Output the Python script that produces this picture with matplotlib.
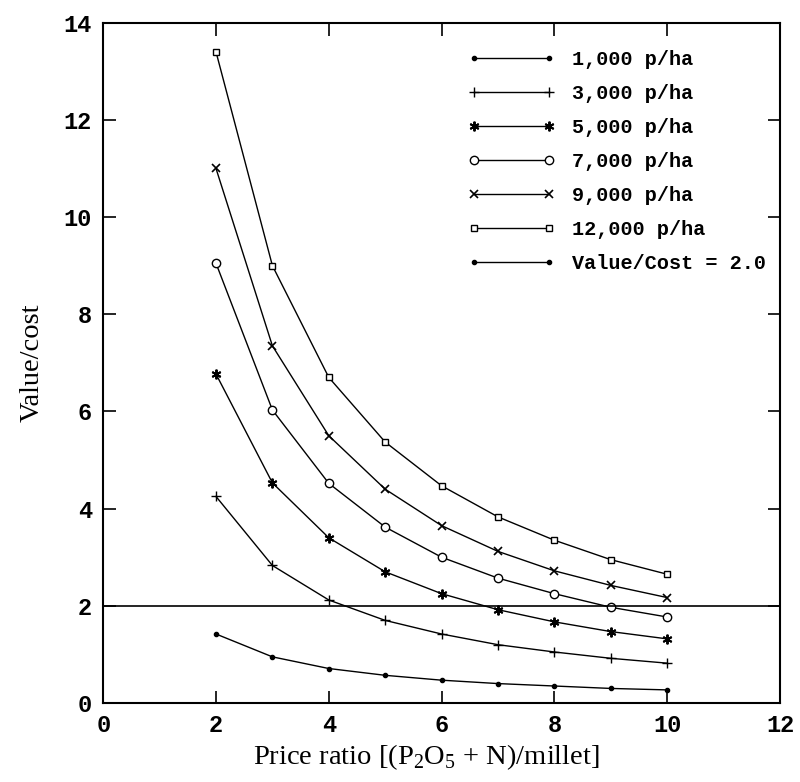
import numpy as np
import matplotlib
matplotlib.use("Agg")
import matplotlib.pyplot as plt
from matplotlib.lines import Line2D

plt.rcParams['mathtext.fontset'] = 'custom'
plt.rcParams['mathtext.rm'] = 'Liberation Serif'

# price ratio values
price_ratio = [2, 3, 4, 5, 6, 7, 8, 9, 10]

# value/cost, one list per yield level
vc_1000 = [1.42, 0.95, 0.71, 0.57, 0.47, 0.40, 0.35, 0.30, 0.27]
vc_3000 = [4.25, 2.83, 2.12, 1.70, 1.42, 1.20, 1.05, 0.92, 0.82]
vc_5000 = [6.77, 4.53, 3.40, 2.70, 2.25, 1.92, 1.67, 1.47, 1.32]
vc_7000 = [9.05, 6.03, 4.52, 3.62, 3.00, 2.57, 2.25, 1.97, 1.77]
vc_9000 = [11.0, 7.35, 5.50, 4.40, 3.65, 3.12, 2.72, 2.42, 2.17]
vc_12000 = [13.4, 9.00, 6.70, 5.37, 4.47, 3.83, 3.35, 2.95, 2.65]

series_labels = ['1,000 p/ha', '3,000 p/ha', '5,000 p/ha', '7,000 p/ha',
                 '9,000 p/ha', '12,000 p/ha']
threshold = 2.0
threshold_label = 'Value/Cost = 2.0'

x_ticks = [0, 2, 4, 6, 8, 10, 12]
y_ticks = [0, 2, 4, 6, 8, 10, 12, 14]

mono = 'Liberation Mono'
serif = 'Liberation Serif'

fig = plt.figure(figsize=(8, 7.82), dpi=100)
ax = fig.add_axes([0.129, 0.101, 0.846, 0.870])

styles = [
    dict(marker='o', markersize=3, markerfacecolor='black'),
    dict(marker='+', markersize=7.5, markeredgewidth=1.0),
    dict(marker=(6, 2, 0), markersize=7, markeredgewidth=1.4),
    dict(marker='o', markersize=6, markerfacecolor='white', markeredgewidth=1.0),
    dict(marker='x', markersize=5.5, markeredgewidth=1.2),
    dict(marker='s', markersize=5, markerfacecolor='white', markeredgewidth=1.0),
]
all_series = [vc_1000, vc_3000, vc_5000, vc_7000, vc_9000, vc_12000]

handles = []
for vals, lab, st in zip(all_series, series_labels, styles):
    h, = ax.plot(price_ratio, vals, color='black', linewidth=1.0,
                 markeredgecolor='black', label=lab, **st)
    handles.append(h)

# break-even line
ax.axhline(threshold, color='black', linewidth=1.2)
handles.append(Line2D([], [], color='black', linewidth=1.0, marker='o',
                      markersize=3, markerfacecolor='black',
                      label=threshold_label))

ax.set_xlim(0, 12)
ax.set_ylim(0, 14)
ax.set_xticks(x_ticks)
ax.set_yticks(y_ticks)
ax.tick_params(direction='in', length=9, width=1.2, top=True, right=True,
               pad=8, labelsize=17)
for lbl in ax.get_xticklabels() + ax.get_yticklabels():
    lbl.set_fontfamily(mono)
    lbl.set_fontweight('bold')
for sp in ax.spines.values():
    sp.set_linewidth(1.5)

ax.set_xlabel('Price ratio [(P$_\\mathrm{2}$O$_\\mathrm{5}$ + N)/millet]',
              fontfamily=serif, fontsize=20.5, labelpad=4)
ax.xaxis.label.set_x(0.477)
ax.set_ylabel('Value/cost', fontfamily=serif, fontsize=20.5, labelpad=14)

leg = ax.legend(handles=handles, loc='upper right', bbox_to_anchor=(1.009, 0.99),
                numpoints=2, frameon=False, handlelength=4.3, handletextpad=0.85,
                labelspacing=0.75, borderaxespad=0.6,
                prop=dict(family=mono, weight='bold', size=14.5))

fig.savefig('out.png', dpi=100)
